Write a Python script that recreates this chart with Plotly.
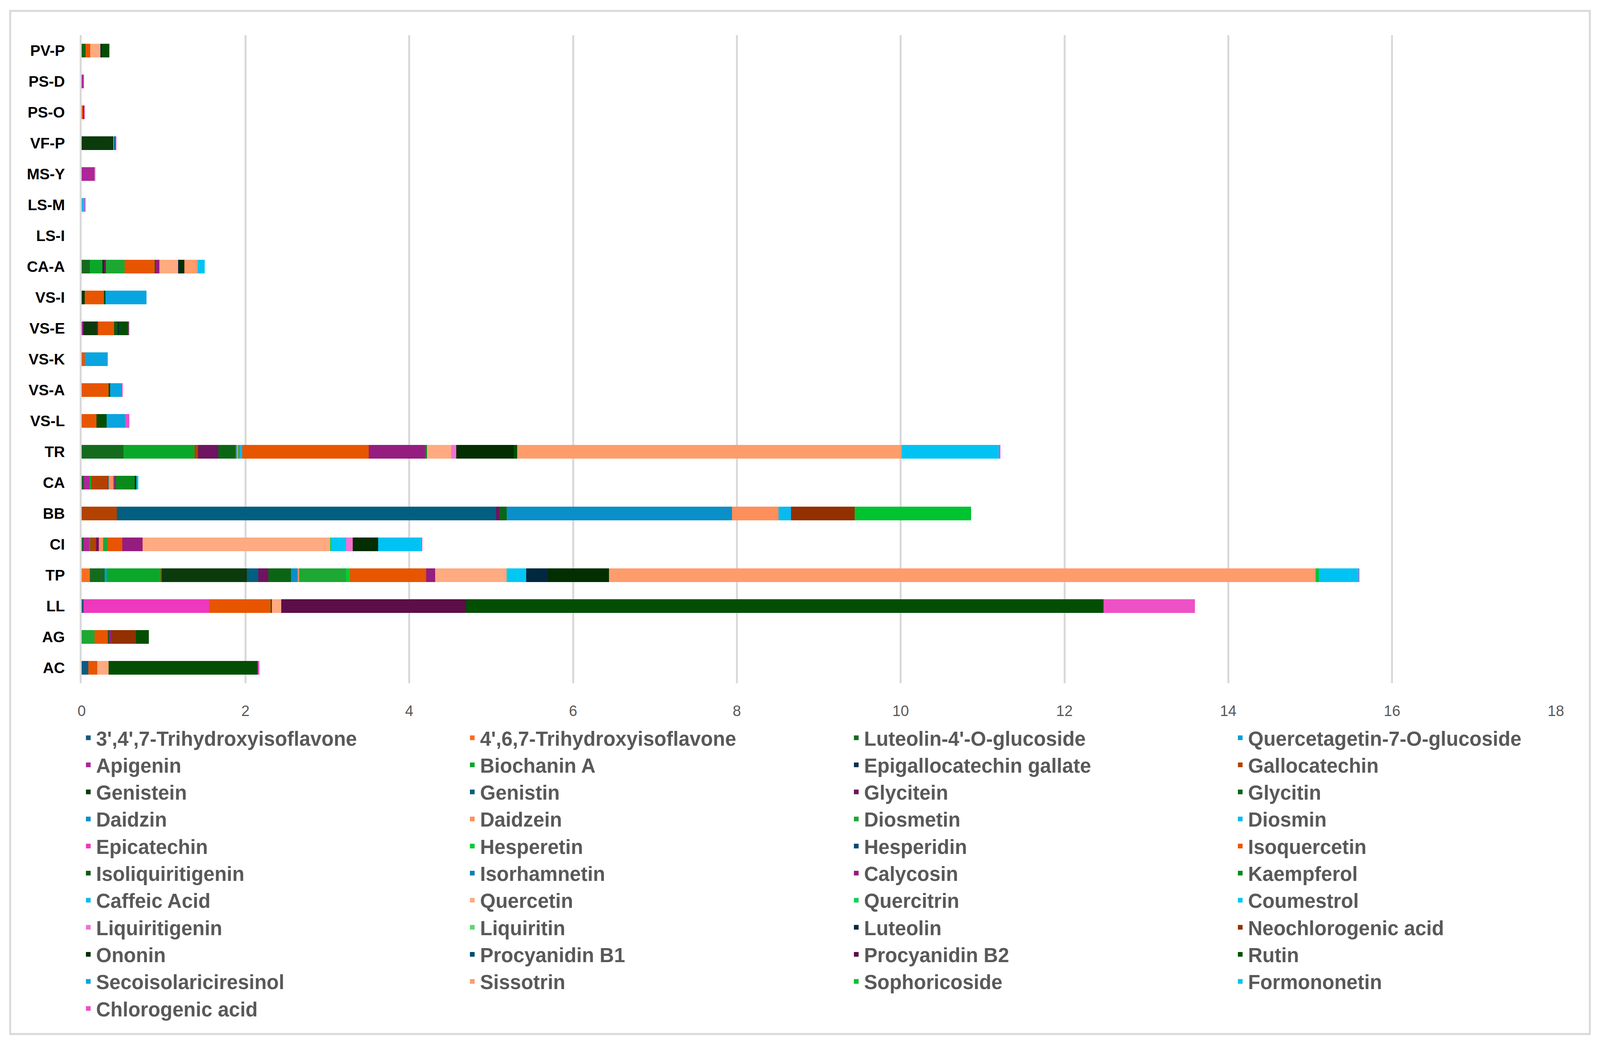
import plotly.graph_objects as go

# Categorías (de abajo hacia arriba, como en el gráfico)
categorias = ["AC", "AG", "LL", "TP", "CI", "BB", "CA", "TR", "VS-L", "VS-A", "VS-K",
              "VS-E", "VS-I", "CA-A", "LS-I", "LS-M", "MS-Y", "VF-P", "PS-O", "PS-D", "PV-P"]

# Compuestos (orden de la leyenda / apilado)
compuestos = [
    "3',4',7-Trihydroxyisoflavone", "4',6,7-Trihydroxyisoflavone", "Luteolin-4'-O-glucoside", "Quercetagetin-7-O-glucoside",
    "Apigenin", "Biochanin A", "Epigallocatechin gallate", "Gallocatechin",
    "Genistein", "Genistin", "Glycitein", "Glycitin",
    "Daidzin", "Daidzein", "Diosmetin", "Diosmin",
    "Epicatechin", "Hesperetin", "Hesperidin", "Isoquercetin",
    "Isoliquiritigenin", "Isorhamnetin", "Calycosin", "Kaempferol",
    "Caffeic Acid", "Quercetin", "Quercitrin", "Coumestrol",
    "Liquiritigenin", "Liquiritin", "Luteolin", "Neochlorogenic acid",
    "Ononin", "Procyanidin B1", "Procyanidin B2", "Rutin",
    "Secoisolariciresinol", "Sissotrin", "Sophoricoside", "Formononetin",
    "Chlorogenic acid",
]

colores = [
    "#0E5C80", "#F96E21", "#146B1E", "#0A9DD8",
    "#B0259A", "#0AA82A", "#0B3050", "#B34200",
    "#0B3A0C", "#035F80", "#6E1460", "#0A6614",
    "#0A8FC8", "#FF8F5A", "#1DA834", "#08BAF0",
    "#EE38BE", "#0ACB35", "#054A6E", "#E85500",
    "#0F5A14", "#0781B5", "#951D7F", "#0A8A1A",
    "#10BAEE", "#FFAA80", "#10D25A", "#00C8F2",
    "#F570D2", "#5AD86C", "#022840", "#933000",
    "#022E02", "#024B6B", "#5C0E48", "#024F04",
    "#08A5E0", "#FF9C6B", "#00C330", "#00C3F3",
    "#EE50C6",
]

# Valores por categoría (solo compuestos presentes)
ac = {"3',4',7-Trihydroxyisoflavone": 0.08, "Isoquercetin": 0.11, "Quercetin": 0.14, "Rutin": 1.82,
      "Chlorogenic acid": 0.02}
ag = {"Diosmetin": 0.155, "Isoquercetin": 0.165, "Isoliquiritigenin": 0.012, "Calycosin": 0.04,
      "Neochlorogenic acid": 0.29, "Rutin": 0.16}
ll = {"3',4',7-Trihydroxyisoflavone": 0.025, "Epicatechin": 1.53, "Isoquercetin": 0.755,
      "Isoliquiritigenin": 0.015, "Quercetin": 0.11, "Procyanidin B2": 2.26, "Rutin": 7.78,
      "Chlorogenic acid": 1.12}
tp = {"4',6,7-Trihydroxyisoflavone": 0.10, "Luteolin-4'-O-glucoside": 0.18, "Quercetagetin-7-O-glucoside": 0.025,
      "Biochanin A": 0.66, "Gallocatechin": 0.013, "Genistein": 1.04, "Genistin": 0.14, "Glycitein": 0.12,
      "Glycitin": 0.28, "Daidzin": 0.08, "Daidzein": 0.02, "Diosmetin": 0.57, "Hesperetin": 0.05,
      "Isoquercetin": 0.93, "Calycosin": 0.11, "Quercetin": 0.87, "Coumestrol": 0.24, "Luteolin": 0.26,
      "Ononin": 0.75, "Sissotrin": 8.63, "Sophoricoside": 0.035, "Formononetin": 0.49, "Chlorogenic acid": 0.01}
ci = {"Luteolin-4'-O-glucoside": 0.025, "Apigenin": 0.065, "Biochanin A": 0.015, "Gallocatechin": 0.07,
      "Glycitein": 0.035, "Daidzein": 0.05, "Diosmetin": 0.055, "Isoquercetin": 0.18, "Calycosin": 0.25,
      "Quercetin": 2.29, "Quercitrin": 0.015, "Coumestrol": 0.18, "Liquiritigenin": 0.08, "Ononin": 0.31,
      "Formononetin": 0.53, "Chlorogenic acid": 0.01}
bb = {"Gallocatechin": 0.43, "Genistin": 4.63, "Glycitein": 0.04, "Glycitin": 0.09, "Daidzin": 2.75,
      "Daidzein": 0.57, "Diosmin": 0.15, "Neochlorogenic acid": 0.78, "Sophoricoside": 1.42}
ca = {"Luteolin-4'-O-glucoside": 0.03, "Apigenin": 0.065, "Biochanin A": 0.025, "Gallocatechin": 0.20,
      "Genistin": 0.01, "Daidzein": 0.055, "Diosmetin": 0.01, "Calycosin": 0.025, "Kaempferol": 0.23,
      "Ononin": 0.02, "Formononetin": 0.02}
tr = {"Luteolin-4'-O-glucoside": 0.51, "Biochanin A": 0.87, "Gallocatechin": 0.04, "Glycitein": 0.25,
      "Glycitin": 0.21, "Daidzin": 0.012, "Daidzein": 0.022, "Diosmetin": 0.015, "Diosmin": 0.03,
      "Isoquercetin": 1.545, "Calycosin": 0.69, "Kaempferol": 0.02, "Quercetin": 0.30, "Liquiritigenin": 0.06,
      "Ononin": 0.70, "Rutin": 0.045, "Sissotrin": 4.69, "Formononetin": 1.19, "Chlorogenic acid": 0.02}
vs_l = {"Isoquercetin": 0.18, "Rutin": 0.125, "Secoisolariciresinol": 0.225, "Chlorogenic acid": 0.05}
vs_a = {"Isoquercetin": 0.33, "Rutin": 0.02, "Secoisolariciresinol": 0.14, "Chlorogenic acid": 0.01}
vs_k = {"Isoquercetin": 0.04, "Secoisolariciresinol": 0.27, "Chlorogenic acid": 0.01}
vs_e = {"Apigenin": 0.02, "Genistein": 0.17, "Glycitein": 0.008, "Isoquercetin": 0.20,
        "Isoliquiritigenin": 0.04, "Luteolin": 0.013, "Rutin": 0.12, "Chlorogenic acid": 0.01}
vs_i = {"Genistein": 0.04, "Isoquercetin": 0.23, "Rutin": 0.02, "Secoisolariciresinol": 0.50}
ca_a = {"Luteolin-4'-O-glucoside": 0.10, "Biochanin A": 0.155, "Genistein": 0.015, "Glycitein": 0.025,
        "Diosmetin": 0.23, "Isoquercetin": 0.365, "Isoliquiritigenin": 0.013, "Calycosin": 0.045,
        "Quercetin": 0.23, "Luteolin": 0.02, "Ononin": 0.055, "Sissotrin": 0.165, "Formononetin": 0.085}
ls_i = {}
ls_m = {"Caffeic Acid": 0.035, "Chlorogenic acid": 0.013}
ms_y = {"Apigenin": 0.14, "Kaempferol": 0.013, "Chlorogenic acid": 0.013}
vf_p = {"Genistein": 0.385, "Coumestrol": 0.015, "Luteolin": 0.01, "Chlorogenic acid": 0.015}
ps_o = {"Isoquercetin": 0.02, "Rutin": 0.01, "Chlorogenic acid": 0.005}
ps_d = {"Apigenin": 0.02, "Epicatechin": 0.005}
pv_p = {"Glycitin": 0.05, "Isoquercetin": 0.055, "Quercetin": 0.125, "Luteolin": 0.02, "Rutin": 0.09}

datos_cat = [ac, ag, ll, tp, ci, bb, ca, tr, vs_l, vs_a, vs_k,
             vs_e, vs_i, ca_a, ls_i, ls_m, ms_y, vf_p, ps_o, ps_d, pv_p]

## CREACIÓN DEL GRÁFICO:
fig = go.Figure()

for nombre, color in zip(compuestos, colores):
    valores = [d.get(nombre, 0) for d in datos_cat]
    fig.add_trace(go.Bar(
        y=categorias,
        x=valores,
        name=nombre,
        orientation="h",
        marker=dict(color=color, line=dict(width=0)),
    ))

# La ventana real mide 4096 px de ancho (y el body tiene 8 px de margen)
W, H = 4080, 2654
m_l, m_r, m_t, m_b = 201, 105, 82, 913
plot_w = W - m_l - m_r
plot_h = H - m_t - m_b

fig.update_layout(
    width=W,
    height=H,
    barmode="stack",
    bargap=0.56,
    template="plotly_white",
    plot_bgcolor="white",
    paper_bgcolor="white",
    margin=dict(l=m_l, r=m_r, t=m_t, b=m_b, autoexpand=False),
    font=dict(family="Liberation Sans, Arial, sans-serif", color="#595959"),
    legend=dict(
        orientation="h",
        traceorder="normal",
        x=-3 / plot_w,
        xanchor="left",
        y=-100 / plot_h,
        yanchor="top",
        entrywidth=938,
        entrywidthmode="pixels",
        font=dict(size=51, color="#595959", weight="bold"),
        bgcolor="rgba(0,0,0,0)",
        valign="middle",
    ),
    xaxis=dict(
        range=[0, 18],
        dtick=2,
        showgrid=True,
        gridcolor="#D9D9D9",
        gridwidth=5,
        zeroline=False,
        showline=False,
        ticks="",
        tickfont=dict(size=38, color="#595959"),
        ticklabelstandoff=45,
    ),
    yaxis=dict(
        type="category",
        categoryorder="array",
        categoryarray=categorias,
        showgrid=False,
        zeroline=False,
        showline=True,
        linecolor="#D9D9D9",
        linewidth=5,
        ticks="",
        tickfont=dict(size=39, color="black", weight="bold"),
        ticklabelstandoff=30,
    ),
    # Borde exterior del área del gráfico
    shapes=[dict(
        type="rect",
        xref="paper", yref="paper",
        x0=(18 - m_l) / plot_w, x1=(4062 - m_l) / plot_w,
        y0=(m_t + plot_h - 2639) / plot_h, y1=(m_t + plot_h - 20) / plot_h,
        line=dict(color="#D9D9D9", width=5),
        fillcolor="rgba(0,0,0,0)",
        layer="below",
    )],
)

fig.write_html("out.html")
